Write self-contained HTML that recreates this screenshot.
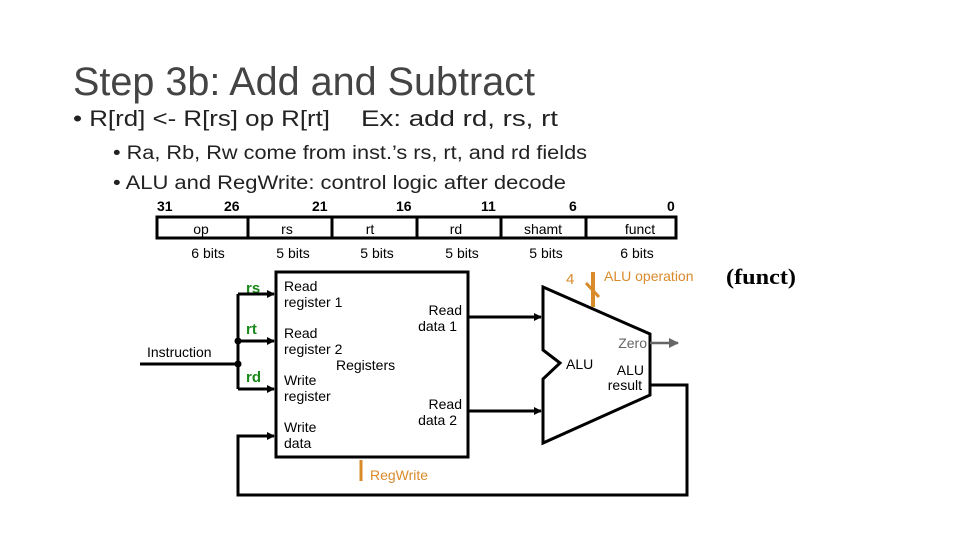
<!DOCTYPE html>
<html><head><meta charset="utf-8"><style>
html,body{margin:0;padding:0;background:#fff;}
svg{display:block;}
text{font-family:"Liberation Sans",sans-serif;}
</style></head><body>
<svg width="960" height="540" viewBox="0 0 960 540" xmlns="http://www.w3.org/2000/svg">
<defs>
<marker id="ab" markerWidth="8" markerHeight="8" refX="7" refY="4" orient="auto" markerUnits="userSpaceOnUse"><path d="M0,0 L8,4 L0,8 z" fill="#000"/></marker>
<marker id="ag" markerWidth="10" markerHeight="10" refX="9" refY="5" orient="auto" markerUnits="userSpaceOnUse"><path d="M0,0 L10,5 L0,10 z" fill="#666"/></marker>
</defs>
<text x="73" y="95" font-size="40" fill="#444" textLength="462" lengthAdjust="spacingAndGlyphs">Step 3b: Add and Subtract</text>
<text x="73" y="126" font-size="22" fill="#222" textLength="257" lengthAdjust="spacingAndGlyphs">• R[rd] &lt;- R[rs] op R[rt]</text>
<text x="361" y="126" font-size="22" fill="#222" textLength="197" lengthAdjust="spacingAndGlyphs">Ex: add   rd, rs, rt</text>
<text x="113" y="159" font-size="19" fill="#222" textLength="474" lengthAdjust="spacingAndGlyphs">•  Ra, Rb, Rw come from inst.’s rs, rt, and rd fields</text>
<text x="113" y="189" font-size="19" fill="#222" textLength="453" lengthAdjust="spacingAndGlyphs">•  ALU and RegWrite: control logic after decode</text>
<g font-size="14" font-weight="bold" fill="#000">
<text x="157" y="211">31</text><text x="224" y="211">26</text><text x="312" y="211">21</text>
<text x="396" y="211">16</text><text x="481" y="211">11</text><text x="569" y="211">6</text><text x="667" y="211">0</text>
</g>
<rect x="157" y="217" width="519" height="21" fill="none" stroke="#000" stroke-width="3"/>
<g stroke="#000" stroke-width="3"><line x1="248" y1="217" x2="248" y2="238"/><line x1="332" y1="217" x2="332" y2="238"/><line x1="417" y1="217" x2="417" y2="238"/><line x1="501" y1="217" x2="501" y2="238"/><line x1="586" y1="217" x2="586" y2="238"/></g>
<g font-size="14" fill="#000" text-anchor="middle">
<text x="201" y="234">op</text><text x="287" y="234">rs</text><text x="370" y="234">rt</text><text x="456" y="234">rd</text><text x="543" y="234">shamt</text><text x="640" y="234">funct</text>
<text x="208" y="258">6 bits</text><text x="293" y="258">5 bits</text><text x="377" y="258">5 bits</text><text x="462" y="258">5 bits</text><text x="546" y="258">5 bits</text><text x="637" y="258">6 bits</text>
</g>
<rect x="276" y="272" width="192" height="185" fill="#fff" stroke="#000" stroke-width="3"/>
<g font-size="14" fill="#000">
<text x="284" y="291">Read</text><text x="284" y="307">register 1</text>
<text x="284" y="338">Read</text><text x="284" y="354">register 2</text>
<text x="336" y="370">Registers</text>
<text x="284" y="385">Write</text><text x="284" y="401">register</text>
<text x="284" y="432">Write</text><text x="284" y="448">data</text>
<text x="462" y="315" text-anchor="end">Read</text><text x="457" y="331" text-anchor="end">data 1</text>
<text x="462" y="409" text-anchor="end">Read</text><text x="457" y="425" text-anchor="end">data 2</text>
</g>
<g font-size="15" font-weight="bold" fill="#1a8a1a">
<text x="246" y="293">rs</text><text x="246" y="334">rt</text><text x="246" y="382">rd</text>
</g>
<text x="147" y="357" font-size="14" fill="#000">Instruction</text>
<g stroke="#000" stroke-width="3" fill="none">
<line x1="238" y1="294" x2="238" y2="389"/>
<line x1="140" y1="364" x2="238" y2="364"/>
<line x1="238" y1="294" x2="274" y2="294" marker-end="url(#ab)"/>
<line x1="238" y1="341" x2="274" y2="341" marker-end="url(#ab)"/>
<line x1="238" y1="389" x2="274" y2="389" marker-end="url(#ab)"/>
<polyline points="650,385 687,385 687,495 238,495 238,436 274,436"/>
<line x1="244" y1="436" x2="274" y2="436" marker-end="url(#ab)"/>
<line x1="468" y1="317" x2="541" y2="317" marker-end="url(#ab)"/>
<line x1="468" y1="411" x2="541" y2="411" marker-end="url(#ab)"/>
<polygon points="543,287 650,334 650,395 543,443 543,379 560,363 543,350" fill="#fff"/>
</g>
<circle cx="238" cy="341" r="3.5" fill="#000"/><circle cx="238" cy="364" r="3.5" fill="#000"/>
<text x="566" y="369" font-size="14" fill="#000">ALU</text>
<text x="644" y="375" font-size="14" fill="#000" text-anchor="end">ALU</text>
<text x="642" y="390" font-size="14" fill="#000" text-anchor="end">result</text>
<text x="647" y="348" font-size="14" fill="#666" text-anchor="end">Zero</text>
<line x1="650" y1="343" x2="678" y2="343" stroke="#666" stroke-width="2.5" marker-end="url(#ag)"/>
<line x1="593" y1="272" x2="593" y2="307" stroke="#d98a2b" stroke-width="4"/>
<line x1="586" y1="283" x2="599" y2="297" stroke="#d98a2b" stroke-width="3"/>
<text x="566" y="284" font-size="15" fill="#d98a2b">4</text>
<text x="604" y="281" font-size="14" fill="#d98a2b">ALU operation</text>
<text x="726" y="284" font-size="22" font-weight="bold" fill="#000" style="font-family:'Liberation Serif',serif" textLength="70" lengthAdjust="spacingAndGlyphs">(funct)</text>
<line x1="361" y1="460" x2="361" y2="481" stroke="#d98a2b" stroke-width="3"/>
<text x="370" y="480" font-size="14" fill="#d98a2b">RegWrite</text>
</svg>
</body></html>
